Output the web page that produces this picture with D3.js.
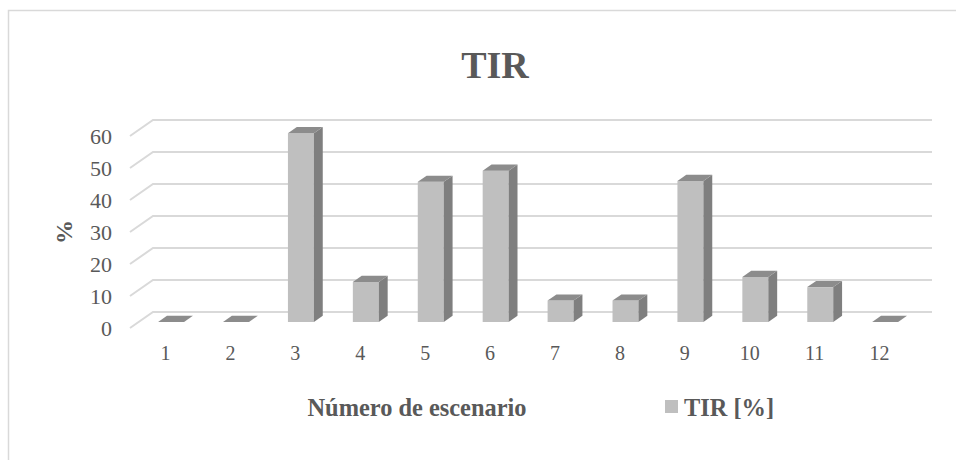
<!DOCTYPE html>
<html>
<head>
<meta charset="utf-8">
<script src="https://cdn.jsdelivr.net/npm/d3@7"></script>
<style>
  html, body { margin: 0; padding: 0; background: #fff; }
  svg { display: block; }
</style>
</head>
<body>
<svg id="chart" width="956" height="460"></svg>
<script>
// Scenario numbers and their internal rate of return (TIR, %)
const scenarios = ["1", "2", "3", "4", "5", "6", "7", "8", "9", "10", "11", "12"];
const tirValues = [0, 0, 59, 12.5, 43.8, 47.3, 6.7, 6.7, 44.1, 14.1, 10.9, 0];
const yTicks = [0, 10, 20, 30, 40, 50, 60];

const data = scenarios.map((s, i) => ({ s, v: tirValues[i] }));
const SERIF = '"Liberation Serif", "Times New Roman", serif';
const INK = "#595959";

const svg = d3.select("#chart");

// Pseudo-3D geometry: full depth shifts right and up
const DX = 23, DY = -16;
const front = { left: 130, right: 909, bottom: 328, top: 136 };
const barF0 = 0.375, barF1 = 0.76;

const x = d3.scaleBand().domain(scenarios)
  .range([front.left, front.right]).paddingInner(0.6).paddingOuter(0.3);
const xc = d3.scaleBand().domain(scenarios).range([front.left, front.right]);
const y = d3.scaleLinear().domain([0, 60]).range([front.bottom, front.top]);

// Outer frame
svg.append("rect")
  .attr("x", 8.5).attr("y", 10.5).attr("width", 1000).attr("height", 1000)
  .attr("fill", "none").attr("stroke", "#d9d9d9").attr("stroke-width", 1.5);

// Gridlines: short slanted segment on the floor side, then along the back wall
const grid = svg.append("g").attr("fill", "none").attr("stroke", "#d9d9d9").attr("stroke-width", 2);
yTicks.forEach(t => {
  const yf = y(t);
  grid.append("path").attr("d",
    `M${front.left},${yf} L${front.left + DX},${yf + DY} L${front.right + DX},${yf + DY}`);
});

// Value axis labels
const yAxis = d3.axisLeft(y).tickValues(yTicks).tickSize(0).tickPadding(18);
const gy = svg.append("g").attr("transform", `translate(${front.left},0)`).call(yAxis);
gy.select(".domain").remove();
gy.selectAll("text")
  .style("font-family", SERIF).style("font-size", "22px").attr("fill", INK);

// Category axis labels
const xAxis = d3.axisBottom(xc).tickSize(0).tickPadding(0);
const gx = svg.append("g").attr("transform", `translate(3,${346})`).call(xAxis);
gx.select(".domain").remove();
gx.selectAll("text")
  .style("font-family", SERIF).style("font-size", "20px").attr("fill", INK);

// Bars with front, top and side faces
const bars = svg.append("g");
data.forEach(d => {
  const x0 = x(d.s) + DX * barF0, x1 = x0 + x.bandwidth();
  const yb = y(0) + DY * barF0, yt = y(d.v) + DY * barF0;
  const ddx = DX * (barF1 - barF0), ddy = DY * (barF1 - barF0);
  const g = bars.append("g");
  if (d.v > 0) {
    g.append("path").attr("fill", "#bfbfbf")
      .attr("d", `M${x0},${yb} L${x0},${yt} L${x1},${yt} L${x1},${yb} Z`);
    g.append("path").attr("fill", "#7f7f7f")
      .attr("d", `M${x1},${yb} L${x1},${yt} L${x1 + ddx},${yt + ddy} L${x1 + ddx},${yb + ddy} Z`);
  }
  g.append("path").attr("fill", "#8c8c8c")
    .attr("d", `M${x0},${yt} L${x1},${yt} L${x1 + ddx},${yt + ddy} L${x0 + ddx},${yt + ddy} Z`);
});

function label(sel, size) {
  return sel.style("font-family", SERIF).style("font-size", size)
    .style("font-weight", "bold").attr("fill", INK);
}

// Title
label(svg.append("text").attr("x", 495).attr("y", 78).attr("text-anchor", "middle"), "38px")
  .text("TIR");

// Value axis title
label(svg.append("text").attr("transform", "translate(72,232) rotate(-90)")
  .attr("text-anchor", "middle"), "24px").text("%");

// Category axis title
label(svg.append("text").attr("x", 417).attr("y", 416).attr("text-anchor", "middle"), "24.4px")
  .text("Número de escenario");

// Legend
svg.append("rect").attr("x", 665).attr("y", 400).attr("width", 13).attr("height", 13)
  .attr("fill", "#bfbfbf");
label(svg.append("text").attr("x", 684).attr("y", 416), "24.4px").text("TIR [%]");
</script>
</body>
</html>
